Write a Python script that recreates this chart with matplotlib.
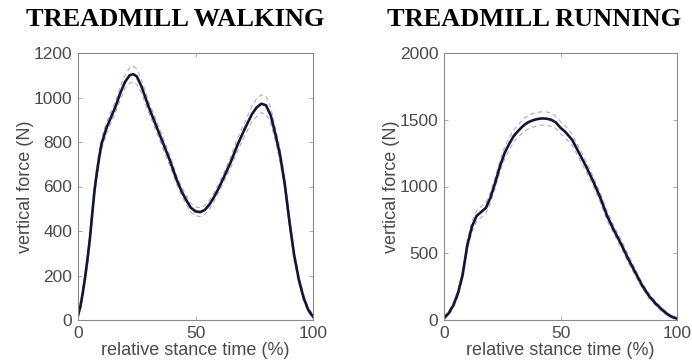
import matplotlib
matplotlib.use('Agg')
import matplotlib.pyplot as plt
import numpy as np

# walking: relative stance time (%) and mean vertical force (N)
walk_t = [0, 1, 2, 3, 4, 5, 6, 7, 8, 9, 10, 12, 14, 16, 18, 20, 22, 23.5, 25, 27,
          30, 33, 36, 39, 42, 44, 46, 48, 50, 52, 54, 56, 58, 60, 62, 65, 68, 71,
          74, 76, 78, 80, 82, 84, 86, 88, 90, 92, 94, 96, 98, 100]
walk_f = [20, 60, 120, 190, 270, 360, 470, 580, 660, 730, 790, 860, 910, 960, 1020,
          1070, 1100, 1105, 1095, 1050, 960, 880, 800, 720, 630, 580, 540, 505, 488,
          485, 495, 520, 555, 595, 640, 710, 790, 860, 925, 955, 972, 965, 920, 835,
          740, 610, 440, 290, 180, 100, 45, 15]
walk_sd = [10, 15, 20, 20, 25, 25, 25, 25, 25, 25, 25, 25, 25, 25, 30, 30, 35, 35,
           35, 30, 25, 25, 25, 25, 20, 20, 20, 20, 20, 20, 20, 20, 20, 20, 20, 25, 30,
           30, 35, 40, 40, 40, 35, 30, 30, 25, 25, 20, 15, 15, 10, 10]

# running
run_t = [0, 2, 4, 6, 8, 10, 12, 14, 16, 18, 20, 22, 24, 26, 28, 30, 32, 34, 36, 38,
         40, 42, 44, 46, 48, 50, 52, 55, 58, 61, 64, 67, 70, 73, 76, 79, 82, 85, 88,
         91, 94, 97, 100]
run_f = [15, 50, 110, 200, 340, 560, 700, 780, 810, 840, 920, 1030, 1150, 1250,
         1320, 1380, 1420, 1455, 1480, 1495, 1505, 1510, 1508, 1500, 1480, 1440,
         1410, 1350, 1250, 1150, 1040, 920, 780, 670, 570, 460, 360, 260, 180, 120,
         70, 30, 10]
run_sd = [10, 15, 20, 25, 30, 35, 40, 40, 40, 40, 40, 40, 40, 45, 45, 45, 45, 50, 50,
          50, 50, 50, 50, 50, 45, 45, 45, 40, 40, 40, 35, 35, 35, 30, 30, 30, 25, 20,
          20, 15, 15, 10, 10]

titles = ["TREADMILL WALKING", "TREADMILL RUNNING"]
title_x = [175, 534]
walk_yticks = [0, 200, 400, 600, 800, 1000, 1200]
run_yticks = [0, 500, 1000, 1500, 2000]
xticks = [0, 50, 100]

W, H = 692, 364
fig = plt.figure(figsize=(W / 100, H / 100), dpi=100)
fig.patch.set_facecolor('white')

grey = '#4a4a4a'
boxes = [(78, 53, 313, 320), (444, 53, 677, 320)]
datasets = [(walk_t, walk_f, walk_sd, walk_yticks), (run_t, run_f, run_sd, run_yticks)]

for (x0, y0, x1, y1), (t, f, sd, yt), title, tx in zip(boxes, datasets, titles, title_x):
    ax = fig.add_axes([x0 / W, 1 - y1 / H, (x1 - x0) / W, (y1 - y0) / H])
    t = np.array(t)
    f = np.array(f)
    sd = np.array(sd)
    ax.plot(t, f + sd, ls='--', color='#aaaac8', lw=0.8, dashes=(4, 3))
    ax.plot(t, f - sd, ls='--', color='#aaaac8', lw=0.8, dashes=(4, 3))
    ax.plot(t, f, color='#14143a', lw=1.9)
    ax.set_xlim(0, 100)
    ax.set_ylim(yt[0], yt[-1])
    ax.set_xticks(xticks)
    ax.set_yticks(yt)
    ax.tick_params(direction='in', top=True, right=True, length=3, width=0.6,
                   colors='#9a9a9a', labelcolor=grey, labelsize=12.5, pad=4)
    for lab in ax.get_xticklabels() + ax.get_yticklabels():
        lab.set_family('Liberation Sans')
    for s in ax.spines.values():
        s.set_color('#8a8a8a')
        s.set_linewidth(0.8)
    ax.set_xlabel('relative stance time (%)', fontsize=13, color=grey,
                  family='Liberation Sans', labelpad=1)
    ax.set_ylabel('vertical force (N)', fontsize=13, color=grey,
                  family='Liberation Sans', labelpad=0)
    fig.text(tx / W, 1 - 20 / H, title, ha='center', va='center', fontsize=19,
             fontweight='bold', family='Liberation Serif', color='black')

fig.savefig('out.png', dpi=100)
